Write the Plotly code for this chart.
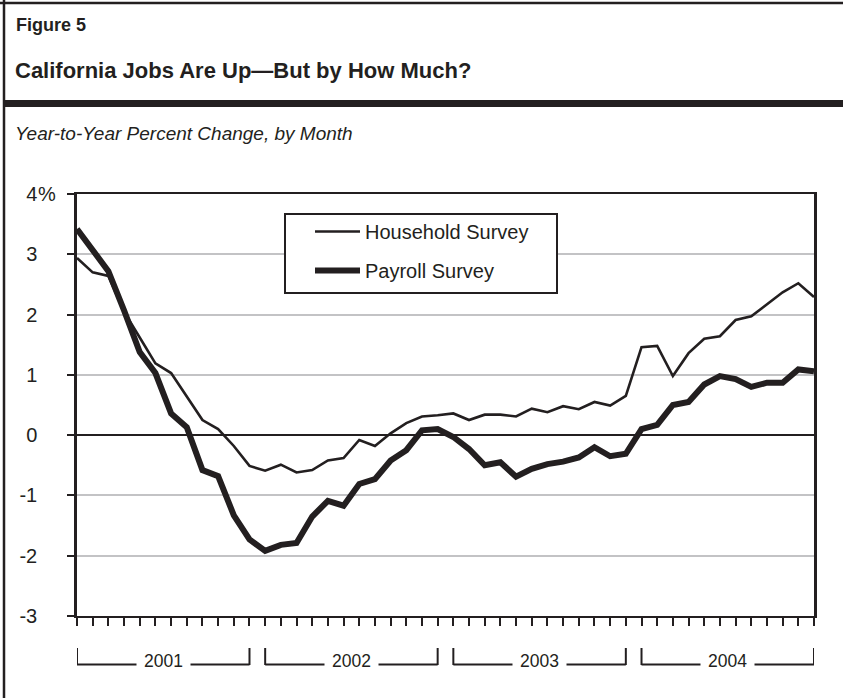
import plotly.graph_objects as go

# Year-to-year percent change in California employment, monthly 2001-2004
years = [2001, 2002, 2003, 2004]
month_names = ["Jan", "Feb", "Mar", "Apr", "May", "Jun",
               "Jul", "Aug", "Sep", "Oct", "Nov", "Dec"]
months = [f"{m} {y}" for y in years for m in month_names]

household = [2.94, 2.70, 2.64, 2.05, 1.62, 1.19, 1.03, 0.63, 0.25, 0.10, -0.18, -0.51,
             -0.59, -0.49, -0.62, -0.58, -0.42, -0.38, -0.08, -0.18, 0.03, 0.20, 0.31, 0.33,
             0.36, 0.25, 0.34, 0.34, 0.31, 0.44, 0.38, 0.48, 0.43, 0.55, 0.49, 0.65,
             1.46, 1.48, 0.98, 1.36, 1.60, 1.64, 1.91, 1.97, 2.17, 2.37, 2.52, 2.29]

payroll = [3.42, 3.05, 2.72, 2.07, 1.38, 1.03, 0.36, 0.13, -0.58, -0.68, -1.33, -1.73,
           -1.92, -1.82, -1.79, -1.35, -1.09, -1.17, -0.81, -0.73, -0.42, -0.25, 0.08, 0.10,
           -0.03, -0.23, -0.50, -0.45, -0.69, -0.56, -0.48, -0.44, -0.37, -0.20, -0.35, -0.31,
           0.10, 0.17, 0.50, 0.55, 0.84, 0.98, 0.93, 0.80, 0.87, 0.87, 1.09, 1.06]

y_ticks = [4, 3, 2, 1, 0, -1, -2, -3]
y_tick_text = ["4", "3", "2", "1", "0", "-1", "-2", "-3"]

INK = "#231f20"
GRID = "#c3c3c5"
SANS = "Liberation Sans, Arial, Helvetica, sans-serif"

FIG_W, FIG_H = 843, 698
L, R, T, B = 77, 814, 194, 616


def px_x(x):
    return (x - L) / (R - L)


def px_y(y):
    return (B - y) / (B - T)


fig = go.Figure()
fig.add_trace(go.Scatter(x=months, y=household, mode="lines", name="Household Survey",
                         line=dict(color=INK, width=2.6), legendgroup="h"))
fig.add_trace(go.Scatter(x=months, y=payroll, mode="lines", name="Payroll Survey",
                         line=dict(color=INK, width=6), legendgroup="p"))

shapes = []
# outer frame: top rule, left rule and the heavy bar under the title
shapes.append(dict(type="line", xref="paper", yref="paper", x0=px_x(0), x1=px_x(FIG_W),
                   y0=px_y(3), y1=px_y(3), line=dict(color=INK, width=2.5)))
shapes.append(dict(type="line", xref="paper", yref="paper", x0=px_x(4), x1=px_x(4),
                   y0=px_y(0), y1=px_y(FIG_H), line=dict(color=INK, width=2.5)))
shapes.append(dict(type="rect", xref="paper", yref="paper", x0=px_x(4), x1=px_x(FIG_W),
                   y0=px_y(100), y1=px_y(107), fillcolor=INK, line=dict(width=0)))
# legend frame
shapes.append(dict(type="rect", xref="paper", yref="paper", x0=px_x(285), x1=px_x(557),
                   y0=px_y(293), y1=px_y(214), fillcolor="white", layer="above",
                   line=dict(color=INK, width=2)))

annotations = []
# year brackets below the month ticks
for k, yr in enumerate(years):
    i0, i1 = k * 12, k * 12 + 11
    for xi in (i0, i1):
        shapes.append(dict(type="line", xref="x", yref="paper", x0=xi, x1=xi,
                           y0=px_y(648), y1=px_y(665), line=dict(color=INK, width=2)))
    shapes.append(dict(type="line", xref="x", yref="paper", x0=i0, x1=i1,
                       y0=px_y(664.5), y1=px_y(664.5), line=dict(color=INK, width=2)))
    annotations.append(dict(x=(i0 + i1) / 2, y=px_y(661), xref="x", yref="paper",
                            text=str(yr), showarrow=False, bgcolor="white", borderpad=7,
                            xanchor="center", yanchor="middle",
                            font=dict(family=SANS, size=17.5, color=INK)))

# percent sign attached to the top tick label
annotations.append(dict(x=px_x(35.5), y=4, xref="paper", yref="y", text="%",
                        xanchor="left", yanchor="middle", showarrow=False,
                        font=dict(family=SANS, size=20, color=INK)))

annotations.append(dict(x=px_x(14), y=px_y(25), xref="paper", yref="paper",
                        text="<b>Figure 5</b>", xanchor="left", yanchor="middle", showarrow=False,
                        font=dict(family=SANS, size=18, color=INK)))
annotations.append(dict(x=px_x(13), y=px_y(71), xref="paper", yref="paper",
                        text="<b>California Jobs Are Up\u2014But by How Much?</b>",
                        xanchor="left", yanchor="middle", showarrow=False,
                        font=dict(family=SANS, size=22, color=INK)))
annotations.append(dict(x=px_x(13), y=px_y(133), xref="paper", yref="paper",
                        text="<i>Year-to-Year Percent Change, by Month</i>",
                        xanchor="left", yanchor="middle", showarrow=False,
                        font=dict(family=SANS, size=19, color=INK)))

fig.update_layout(
    width=FIG_W, height=FIG_H,
    margin=dict(l=L, r=FIG_W - R, t=T, b=FIG_H - B),
    paper_bgcolor="white", plot_bgcolor="white",
    showlegend=True,
    legend=dict(x=px_x(310), y=px_y(212), xanchor="left", yanchor="top",
                bgcolor="rgba(0,0,0,0)", borderwidth=0, traceorder="grouped",
                tracegroupgap=10, itemwidth=45,
                font=dict(family=SANS, size=20, color=INK)),
    shapes=shapes,
    annotations=annotations,
    xaxis=dict(type="category", range=[0, len(months) - 1], showgrid=False,
               showline=True, mirror=True, linecolor=INK, linewidth=2,
               ticks="outside", ticklen=8, tickwidth=1.6, tickcolor=INK,
               dtick=1, showticklabels=False, zeroline=False),
    yaxis=dict(range=[-3, 4], tickvals=y_ticks, ticktext=y_tick_text,
               showgrid=True, gridcolor=GRID, gridwidth=2,
               zeroline=True, zerolinecolor=INK, zerolinewidth=1.6,
               showline=True, mirror=True, linecolor=INK, linewidth=2.5,
               ticks="outside", ticklen=7, tickwidth=2, tickcolor=INK,
               ticklabelstandoff=26,
               tickfont=dict(family=SANS, size=20, color=INK)),
)

fig.write_html("out.html")
